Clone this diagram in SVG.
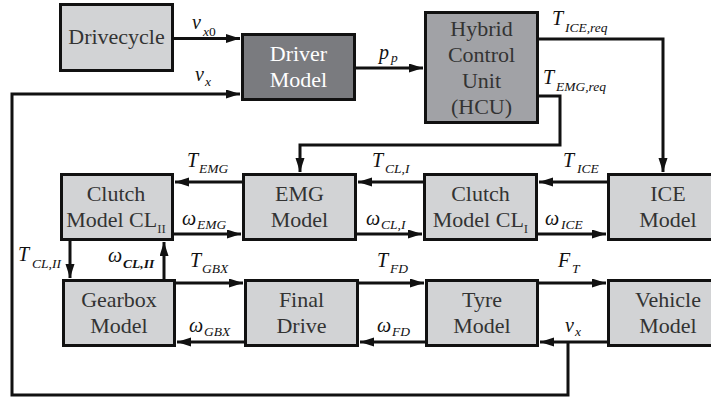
<svg xmlns="http://www.w3.org/2000/svg" width="711" height="398" viewBox="0 0 711 398">
<style>
.box{stroke:#111;stroke-width:3}
.lt{fill:#d2d3d5}
.dk{fill:#7a7b7f}
.md{fill:#a1a2a6}
text{font-family:"Liberation Serif","Times New Roman","DejaVu Serif",serif}
.bt{font-size:22px;fill:#333;text-anchor:middle}
.wt{fill:#fff}
.sb{font-size:13px}
.m{font-style:italic;font-size:20px;fill:#111}
.s{font-size:13.5px}
.c{fill:none;stroke:#111;stroke-width:3}
</style>
<defs>
<marker id="ah" markerUnits="userSpaceOnUse" markerWidth="14" markerHeight="10" refX="14" refY="4.5" orient="auto">
<path d="M0,0 L14,4.5 L0,9 z" fill="#111"/>
</marker>
</defs>
<rect width="711" height="398" fill="#fff"/>

<g id="connectors">
<path class="c" marker-end="url(#ah)" d="M174,38.5 H240"/>
<path class="c" marker-end="url(#ah)" d="M356,68 H423"/>
<path class="c" marker-end="url(#ah)" d="M539,39 H663 V172"/>
<path class="c" marker-end="url(#ah)" d="M539,96 H560 V145 H300 V172"/>
<path class="c" marker-end="url(#ah)" d="M242,182 H175"/>
<path class="c" marker-end="url(#ah)" d="M174,234 H241"/>
<path class="c" marker-end="url(#ah)" d="M423,182 H358"/>
<path class="c" marker-end="url(#ah)" d="M357,234 H422"/>
<path class="c" marker-end="url(#ah)" d="M607,182 H539"/>
<path class="c" marker-end="url(#ah)" d="M538,234 H606"/>
<path class="c" marker-end="url(#ah)" d="M70,241 V278"/>
<path class="c" marker-end="url(#ah)" d="M164,279 V242"/>
<path class="c" marker-end="url(#ah)" d="M176,283 H243"/>
<path class="c" marker-end="url(#ah)" d="M244,342 H177"/>
<path class="c" marker-end="url(#ah)" d="M359,283 H424"/>
<path class="c" marker-end="url(#ah)" d="M425,342 H360"/>
<path class="c" marker-end="url(#ah)" d="M539,283 H606"/>
<path class="c" marker-end="url(#ah)" d="M607,342 H540"/>
<path class="c" marker-end="url(#ah)" d="M568,342 V395 H12 V94 H240"/>
</g>

<g id="drivecycle">
<rect class="box lt" x="60.5" y="4.5" width="112" height="66"/>
<text class="bt" x="116.5" y="44">Drivecycle</text>
</g>
<g id="driver-model">
<rect class="box dk" x="242.5" y="34.5" width="112" height="65"/>
<text class="bt wt" x="298.5" y="61">Driver</text>
<text class="bt wt" x="298.5" y="87">Model</text>
</g>
<g id="hcu">
<rect class="box md" x="425.5" y="12.5" width="112" height="110"/>
<text class="bt" x="481.5" y="36">Hybrid</text>
<text class="bt" x="481.5" y="62">Control</text>
<text class="bt" x="481.5" y="88">Unit</text>
<text class="bt" x="481.5" y="114">(HCU)</text>
</g>
<g id="clutch-2">
<rect class="box lt" x="61.5" y="174.5" width="111" height="65"/>
<text class="bt" x="116" y="201">Clutch</text>
<text class="bt" x="116" y="227">Model CL<tspan class="sb" dy="6">II</tspan></text>
</g>
<g id="emg-model">
<rect class="box lt" x="243.5" y="174.5" width="112" height="65"/>
<text class="bt" x="299.5" y="201">EMG</text>
<text class="bt" x="299.5" y="227">Model</text>
</g>
<g id="clutch-1">
<rect class="box lt" x="424.5" y="174.5" width="112" height="65"/>
<text class="bt" x="480.5" y="201">Clutch</text>
<text class="bt" x="480.5" y="227">Model CL<tspan class="sb" dy="6">I</tspan></text>
</g>
<g id="ice-model">
<rect class="box lt" x="608.5" y="174.5" width="120" height="65"/>
<text class="bt" x="668" y="201">ICE</text>
<text class="bt" x="668" y="227">Model</text>
</g>
<g id="gearbox-model">
<rect class="box lt" x="63.5" y="280.5" width="111" height="65"/>
<text class="bt" x="119" y="307">Gearbox</text>
<text class="bt" x="119" y="333">Model</text>
</g>
<g id="final-drive">
<rect class="box lt" x="245.5" y="280.5" width="112" height="65"/>
<text class="bt" x="301.5" y="307">Final</text>
<text class="bt" x="301.5" y="333">Drive</text>
</g>
<g id="tyre-model">
<rect class="box lt" x="426.5" y="280.5" width="111" height="65"/>
<text class="bt" x="482" y="307">Tyre</text>
<text class="bt" x="482" y="333">Model</text>
</g>
<g id="vehicle-model">
<rect class="box lt" x="608.5" y="280.5" width="120" height="65"/>
<text class="bt" x="668" y="307">Vehicle</text>
<text class="bt" x="668" y="333">Model</text>
</g>

<g id="labels">
<text class="m" x="192" y="29">v<tspan class="s" x="203" y="36">x</tspan><tspan class="s" font-style="normal">0</tspan></text>
<text class="m" x="195" y="81">v<tspan class="s" x="205" y="86">x</tspan></text>
<text class="m" x="379" y="59">p<tspan class="s" x="391" y="62">p</tspan></text>
<text class="m" x="552" y="25">T<tspan class="s" x="565" y="32">ICE,req</tspan></text>
<text class="m" x="543" y="84">T<tspan class="s" x="556" y="91">EMG,req</tspan></text>
<text class="m" x="187" y="167">T<tspan class="s" x="199" y="173">EMG</tspan></text>
<text class="m" x="182" y="225">ω<tspan class="s" x="197" y="229">EMG</tspan></text>
<text class="m" x="366" y="225">ω<tspan class="s" x="381" y="229">CL,I</tspan></text>
<text class="m" x="372" y="167">T<tspan class="s" x="385" y="173">CL,I</tspan></text>
<text class="m" x="563" y="167">T<tspan class="s" x="577" y="173">ICE</tspan></text>
<text class="m" x="545" y="225">ω<tspan class="s" x="561" y="229">ICE</tspan></text>
<text class="m" x="18" y="261">T<tspan class="s" x="32" y="268">CL,II</tspan></text>
<text class="m" x="108" y="262">ω<tspan class="s" x="123" y="268" font-weight="bold">CL,II</tspan></text>
<text class="m" x="190" y="267">T<tspan class="s" x="202" y="273">GBX</tspan></text>
<text class="m" x="189" y="332">ω<tspan class="s" x="204" y="336">GBX</tspan></text>
<text class="m" x="377" y="267">T<tspan class="s" x="390" y="273">FD</tspan></text>
<text class="m" x="377" y="332">ω<tspan class="s" x="392" y="336">FD</tspan></text>
<text class="m" x="558" y="267">F<tspan class="s" x="572" y="273">T</tspan></text>
<text class="m" x="565" y="332">v<tspan class="s" x="575" y="336">x</tspan></text>
</g>
</svg>
